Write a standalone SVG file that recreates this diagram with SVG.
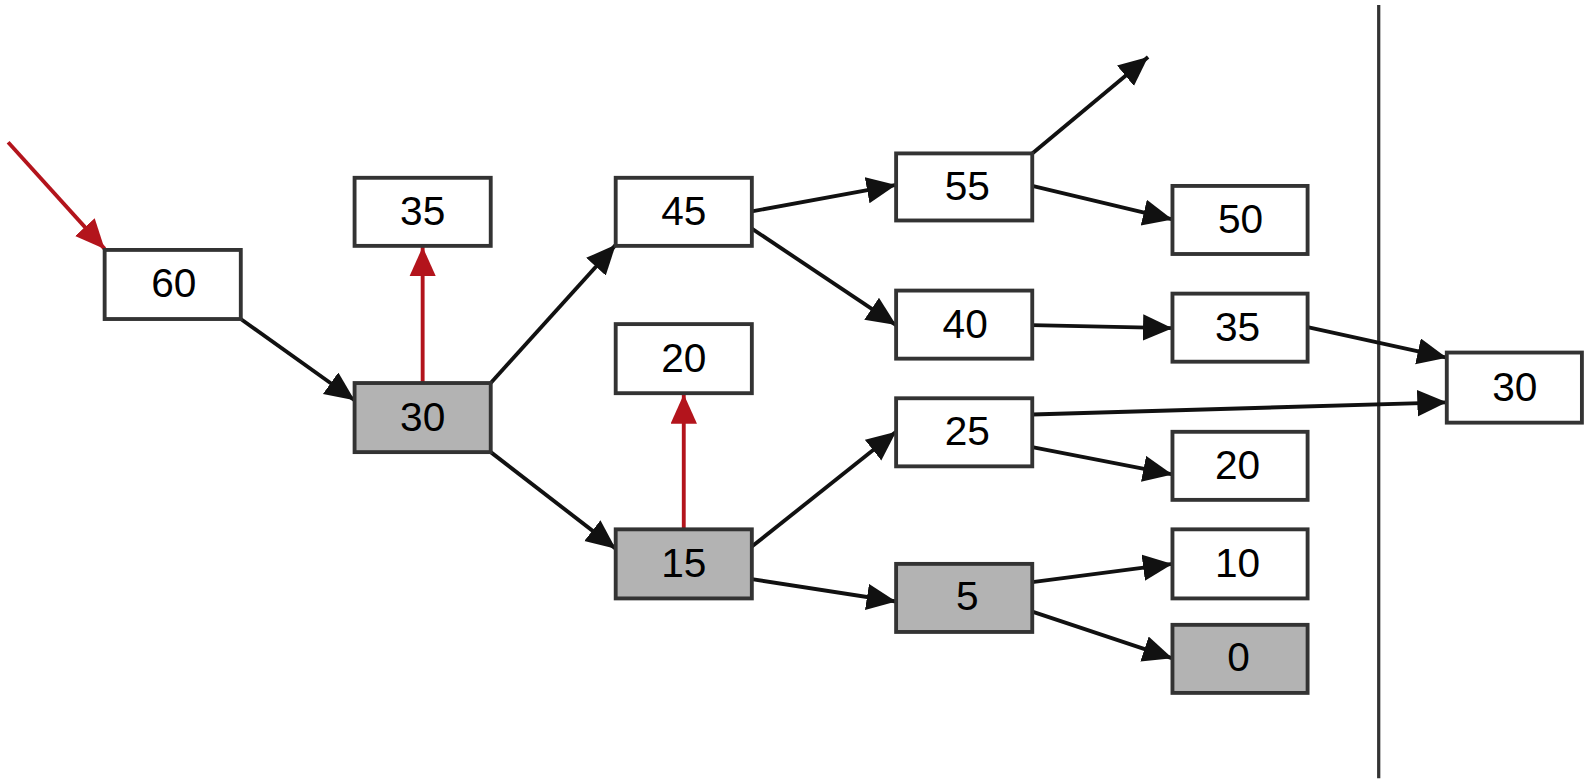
<svg xmlns="http://www.w3.org/2000/svg" width="1591" height="784" viewBox="0 0 1591 784">
<defs>
<style>
.box{fill:#fff;stroke:#333;stroke-width:3.8}
.gray{fill:#b3b3b3}
.lbl{font-family:"Liberation Sans",Arial,sans-serif;font-size:40px;fill:#000;text-anchor:middle;dominant-baseline:central}
.e{stroke:#111;stroke-width:3.8;fill:none;marker-end:url(#ab)}
.r{stroke:#b3141c;stroke-width:3.8;fill:none;marker-end:url(#ar)}
</style>
<marker id="ab" markerUnits="userSpaceOnUse" markerWidth="32" markerHeight="28" refX="29" refY="13" orient="auto" viewBox="0 0 32 28"><path d="M0,0 L29,13 L0,26 z" fill="#111"/></marker>
<marker id="ar" markerUnits="userSpaceOnUse" markerWidth="32" markerHeight="28" refX="29" refY="13" orient="auto" viewBox="0 0 32 28"><path d="M0,0 L29,13 L0,26 z" fill="#b3141c"/></marker>
</defs>
<rect width="1591" height="784" fill="#fff"/>
<g transform="scale(1.016)">
<line x1="1357" y1="5" x2="1357" y2="766" stroke="#333" stroke-width="3.2"/>
<g id="connectors">
<line class="r" x1="8" y1="140" x2="103" y2="245"/>
<line class="e" x1="237" y1="314" x2="349" y2="394"/>
<line class="r" x1="416" y1="377" x2="416" y2="243"/>
<line class="e" x1="483" y1="377" x2="606" y2="241"/>
<line class="e" x1="483" y1="445" x2="606" y2="540"/>
<line class="r" x1="673" y1="521" x2="673" y2="388"/>
<line class="e" x1="740" y1="208" x2="882" y2="182"/>
<line class="e" x1="740" y1="225" x2="882" y2="320"/>
<line class="e" x1="1016" y1="151" x2="1130" y2="56"/>
<line class="e" x1="1016" y1="183" x2="1154" y2="216"/>
<line class="e" x1="1016" y1="320" x2="1154" y2="323"/>
<line class="e" x1="1287" y1="322" x2="1424" y2="352"/>
<line class="e" x1="740" y1="538" x2="882" y2="425"/>
<line class="e" x1="740" y1="570" x2="882" y2="592"/>
<line class="e" x1="1016" y1="408" x2="1424" y2="396"/>
<line class="e" x1="1016" y1="440" x2="1154" y2="467"/>
<line class="e" x1="1016" y1="573" x2="1154" y2="555"/>
<line class="e" x1="1016" y1="602" x2="1154" y2="648"/>
</g>
<g id="n60"><rect class="box" x="103" y="246" width="134" height="68"/><text class="lbl" x="171" y="279">60</text></g>
<g id="n35a"><rect class="box" x="349" y="175" width="134" height="67"/><text class="lbl" x="416" y="208">35</text></g>
<g id="n30a"><rect class="box gray" x="349" y="377" width="134" height="68"/><text class="lbl" x="416" y="410">30</text></g>
<g id="n45"><rect class="box" x="606" y="175" width="134" height="67"/><text class="lbl" x="673" y="208">45</text></g>
<g id="n20a"><rect class="box" x="606" y="319" width="134" height="68"/><text class="lbl" x="673" y="352">20</text></g>
<g id="n15"><rect class="box gray" x="606" y="521" width="134" height="68"/><text class="lbl" x="673" y="554">15</text></g>
<g id="n55"><rect class="box" x="882" y="151" width="134" height="66"/><text class="lbl" x="952" y="183">55</text></g>
<g id="n40"><rect class="box" x="882" y="286" width="134" height="67"/><text class="lbl" x="950" y="319">40</text></g>
<g id="n25"><rect class="box" x="882" y="392" width="134" height="67"/><text class="lbl" x="952" y="424">25</text></g>
<g id="n5"><rect class="box gray" x="882" y="555" width="134" height="67"/><text class="lbl" x="952" y="587">5</text></g>
<g id="n50"><rect class="box" x="1154" y="183" width="133" height="67"/><text class="lbl" x="1221" y="216">50</text></g>
<g id="n35b"><rect class="box" x="1154" y="289" width="133" height="67"/><text class="lbl" x="1218" y="322">35</text></g>
<g id="n20b"><rect class="box" x="1154" y="425" width="133" height="67"/><text class="lbl" x="1218" y="458">20</text></g>
<g id="n10"><rect class="box" x="1154" y="521" width="133" height="68"/><text class="lbl" x="1218" y="554">10</text></g>
<g id="n0"><rect class="box gray" x="1154" y="615" width="133" height="67"/><text class="lbl" x="1219" y="647">0</text></g>
<g id="n30b"><rect class="box" x="1424" y="347" width="133" height="69"/><text class="lbl" x="1491" y="381">30</text></g>
</g>
</svg>
